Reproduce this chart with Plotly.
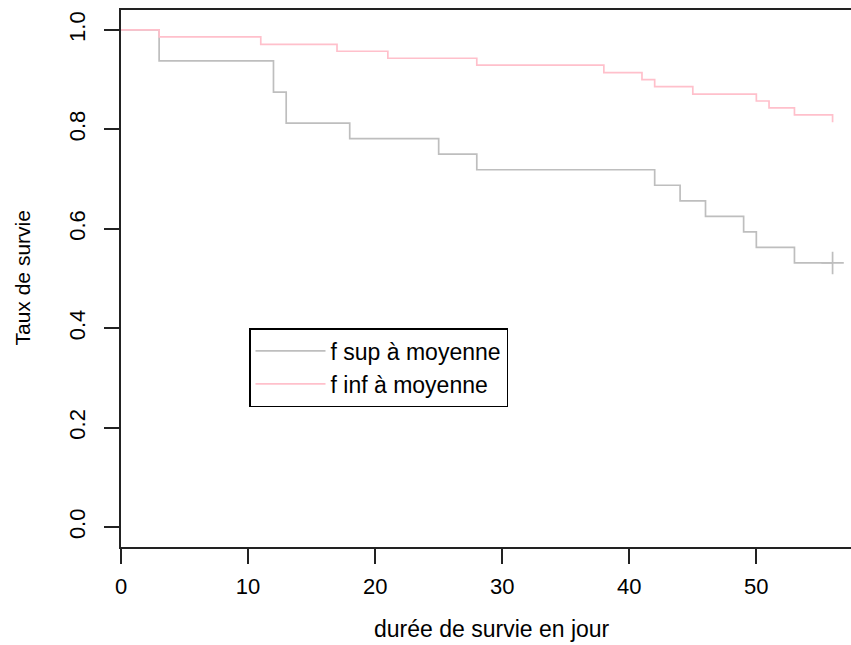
import plotly.graph_objects as go

# Kaplan-Meier step data
sup_time = [0, 3, 12, 13, 18, 25, 28, 42, 44, 46, 49, 50, 53, 56]
sup_surv = [1.0, 0.9375, 0.875, 0.8125, 0.78125, 0.75, 0.71875, 0.6875,
            0.65625, 0.625, 0.59375, 0.5625, 0.53125, 0.53125]
sup_censor_time = [56]
sup_censor_surv = [0.53125]

inf_time = [0, 3, 11, 17, 21, 28, 38, 41, 42, 45, 50, 51, 53, 56]
inf_surv = [1.0, 0.986, 0.971, 0.957, 0.943, 0.929, 0.914, 0.900,
            0.886, 0.871, 0.857, 0.843, 0.829, 0.814]

x_ticks = [0, 10, 20, 30, 40, 50]
y_ticks = [0.0, 0.2, 0.4, 0.6, 0.8, 1.0]
y_tick_text = ["0.0", "0.2", "0.4", "0.6", "0.8", "1.0"]

series_names = ["f sup à moyenne", "f inf à moyenne"]
x_title = "durée de survie en jour"
y_title = "Taux de survie"

FONT = "Liberation Sans, Arial, Helvetica, sans-serif"
GREY = "#BEBEBE"
PINK = "#FFC0CB"

fig = go.Figure()
fig.add_trace(go.Scatter(x=sup_time, y=sup_surv, mode="lines", line_shape="hv",
                         line=dict(color=GREY, width=1.7), name=series_names[0]))
fig.add_trace(go.Scatter(x=sup_censor_time, y=sup_censor_surv, mode="markers",
                         marker=dict(symbol="cross-thin", size=16,
                                     line=dict(color=GREY, width=1.7)),
                         showlegend=False, hoverinfo="skip"))
fig.add_trace(go.Scatter(x=inf_time, y=inf_surv, mode="lines", line_shape="hv",
                         line=dict(color=PINK, width=1.7), name=series_names[1]))

left, right, top, bottom = 121, 0, 10, 98
W, H = 851, 645
PW, PH = W - left - right, H - top - bottom
fig.update_layout(
    width=W, height=H,
    margin=dict(l=left, r=right, t=top, b=bottom, pad=0),
    paper_bgcolor="white", plot_bgcolor="white",
    font=dict(family=FONT, size=22, color="black"),
    showlegend=True,
    legend=dict(x=(249 - left) / PW, y=(H - bottom - 328) / PH,
                xanchor="left", yanchor="top",
                bordercolor="black", borderwidth=1.5, bgcolor="white",
                font=dict(family=FONT, size=23, color="black"),
                tracegroupgap=0, itemwidth=70),
    xaxis=dict(range=[0, 57.45], tickvals=x_ticks, ticks="outside", ticklen=15,
               tickwidth=1.5, tickcolor="#222", showline=True, linecolor="#222",
               linewidth=1.5, mirror=True, showgrid=False, zeroline=False,
               tickfont=dict(size=22), ticklabelstandoff=4),
    yaxis=dict(range=[-0.04, 1.04], tickvals=y_ticks, ticktext=y_tick_text,
               ticks="outside", ticklen=15, tickwidth=1.5, tickcolor="#222",
               showline=True, linecolor="#222", linewidth=1.5, mirror=False,
               showgrid=False, zeroline=False, tickangle=-90,
               tickfont=dict(size=22), ticklabelstandoff=10),
    annotations=[
        dict(text=x_title, xref="paper", yref="paper", x=(492 - left) / PW,
             y=-(629 - (H - bottom)) / PH, xanchor="center", yanchor="middle",
             showarrow=False, font=dict(family=FONT, size=23, color="black")),
        dict(text=y_title, xref="paper", yref="paper", x=-(left - 22) / PW,
             y=0.5, xanchor="center", yanchor="middle", textangle=-90,
             showarrow=False, font=dict(family=FONT, size=21, color="black")),
    ],
)

fig.write_html("out.html")
